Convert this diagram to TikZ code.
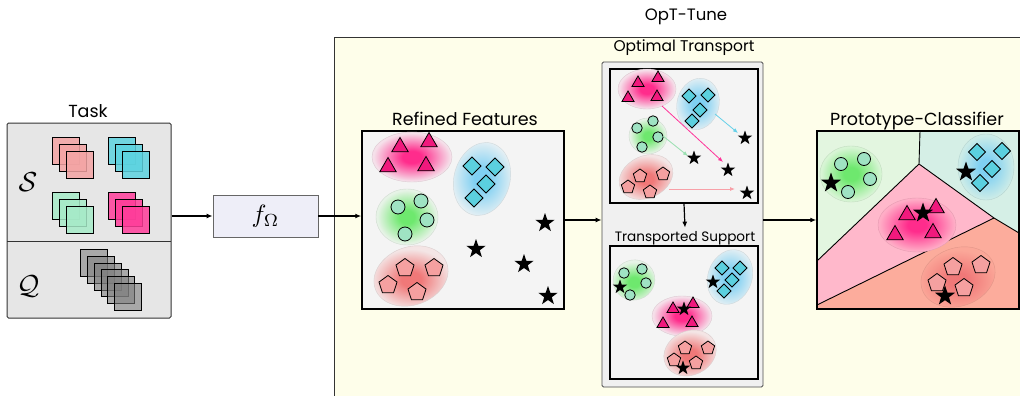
\documentclass[tikz,border=0pt]{standalone}
\usepackage{fontspec}
\setmainfont{Poppins}
\usetikzlibrary{shapes.geometric,arrows.meta}

% palette
\definecolor{optfill}{HTML}{FEFEEA}
\definecolor{frame}{HTML}{333333}
\definecolor{taskfill}{HTML}{E6E6E6}
\definecolor{panelfill}{HTML}{F4F4F4}
\definecolor{otfill}{HTML}{F0F0F0}
\definecolor{ffill}{HTML}{EEEEF8}
\definecolor{magT}{HTML}{F0197D}
\definecolor{cyT}{HTML}{5BD0DF}
\definecolor{grT}{HTML}{9FE3C3}
\definecolor{salT}{HTML}{F5A0A0}
\definecolor{sqS}{HTML}{F4A4A4}
\definecolor{sqC}{HTML}{5DD3E0}
\definecolor{sqG}{HTML}{A6EBC8}
\definecolor{sqM}{HTML}{FF3D9A}
\definecolor{magB}{HTML}{FF2C8C}
\definecolor{cyB}{HTML}{7FD0F2}
\definecolor{grB}{HTML}{6EE86E}
\definecolor{salB}{HTML}{F07878}
\definecolor{pcG}{HTML}{E3F6E0}
\definecolor{pcC}{HTML}{D5EFE6}
\definecolor{pcM}{HTML}{FFB8CB}
\definecolor{pcS}{HTML}{FCAC9C}
\definecolor{arM}{HTML}{FF3399}
\definecolor{arC}{HTML}{66D0E8}
\definecolor{arG}{HTML}{99E0B0}
\definecolor{arS}{HTML}{F8A0A8}

% soft cluster blobs
\colorlet{blobin}{red}\colorlet{blobmid}{pink}\colorlet{blobout}{white}
\pgfdeclareradialshading[blobin,blobmid,blobout]{blobshade}{\pgfpointorigin}{%
  color(0bp)=(blobin); color(6bp)=(blobin); color(24bp)=(blobmid);
  color(42bp)=(blobout); color(50bp)=(blobout)}
\newcommand\blob[6]{% center, x radius, y radius, angle, inner, outer
  \colorlet{blobin}{#5}\colorlet{blobout}{#6}\colorlet{blobmid}{#5!55!#6}%
  \path[shade, shading=blobshade, draw=#6!90!black, line width=0.4pt,
        rotate around={#4:#1}] #1 ellipse [x radius=#2, y radius=#3];}

% stacked image cards
\newcommand\cards[4]{% x, y, colour, count
  \foreach \k in {1,...,#4}{
    \draw[line width=0.8pt, fill=#3, fill opacity=0.85]
      ({#1+7*(\k-1)},{#2+7*(\k-1)}) rectangle ++(27,27);}}

\tikzset{
  shp/.style={draw=black, line width=0.8pt, inner sep=0pt, outer sep=0pt},
  tri/.style={shp, regular polygon, regular polygon sides=3, fill=magT, minimum size=#1},
  dia/.style={shp, diamond, aspect=1, fill=cyT, minimum size=#1},
  circ/.style={shp, circle, fill=grT, minimum size=#1},
  pent/.style={shp, regular polygon, regular polygon sides=5, fill=salT, minimum size=#1},
  pstar/.style={star, star points=5, star point ratio=2.5, fill=black, inner sep=0pt, minimum size=#1},
  conn/.style={line width=1.2pt, -{Latex[length=6pt,width=5pt]}},
  otar/.style={line width=0.8pt, -{Latex[length=5pt,width=4pt]}},
  plotbox/.style={draw=black, line width=1.5pt, fill=panelfill, inner sep=0pt},
  ttl/.style={font=\fontsize{17.5}{20}\selectfont},
}

\begin{document}
\begin{tikzpicture}[x=1pt,y=-1pt]
\useasboundingbox (0,0) rectangle (1020,396);

% ---------- OpT-Tune container ----------
\node[draw=frame, fill=optfill, line width=0.9pt, inner sep=0pt, anchor=north west,
      minimum width=720pt, minimum height=380pt] (opt) at (334,37) {};
\node[font=\fontsize{16.5}{20}\selectfont] (opttitle) at (686,17) {OpT-Tune};

% ---------- Task ----------
\node[draw=frame, fill=taskfill, line width=1pt, rounded corners=1.5pt, inner sep=0pt,
      minimum width=164pt, minimum height=195pt] (task) at (89,220.5) {};
\coordinate (tdl) at (7,241);
\coordinate (tdr) at (171,241);
\draw[frame, line width=1pt] (tdl) -- (tdr);
\node[ttl] (tasktitle) at (88,111) {Task};
\node (slabel) at (28,182) {\scalebox{2.75}{\fontsize{10}{12}\selectfont$\mathcal{S}$}};
\node (qlabel) at (28,286) {\scalebox{2.75}{\fontsize{10}{12}\selectfont$\mathcal{Q}$}};
\cards{52}{137}{sqS}{3}
\cards{108}{137}{sqC}{3}
\cards{52}{192}{sqG}{3}
\cards{108}{192}{sqM}{3}
\foreach \qx/\qy in {80/249,87/256,94/263,101/269,107/276,114/283}
  \draw[line width=0.8pt, fill=black!50, fill opacity=0.6] (\qx,\qy) rectangle ++(27,27);

% ---------- backbone ----------
\node[draw=black!60, fill=ffill, line width=0.8pt, inner sep=0pt,
      minimum width=105pt, minimum height=42pt] (fnet) at (265.5,216)
      {\scalebox{2.5}{\fontsize{10}{12}\selectfont$f_\Omega$}};

% ---------- Refined Features ----------
\node[plotbox, minimum width=202pt, minimum height=178pt] (rf) at (463,220) {};
\node[ttl] (rftitle) at (465,119) {Refined Features};
\blob{(412,157)}{40}{25}{0}{magB}{magB!10!panelfill}
\blob{(482,179)}{28}{37}{-15}{cyB}{cyB!12!panelfill}
\blob{(407,217)}{31}{28}{0}{grB}{grB!10!panelfill}
\blob{(411,276)}{38}{29}{20}{salB}{salB!12!panelfill}
\foreach \p [count=\i] in {(400,147),(429,142),(388,167),(426,166)} \node[tri=19] (rft\i) at \p {};
\foreach \p [count=\i] in {(472,166),(495,167),(486,184),(474,198)} \node[dia=18] (rfd\i) at \p {};
\foreach \p [count=\i] in {(398,207),(421,201),(427,220),(405,234)} \node[circ=14] (rfc\i) at \p {};
\foreach \p [count=\i] in {(388,285),(405,268),(434,268),(417,292)} \node[pent=19] (rfp\i) at \p {};
\foreach \p [count=\i] in {(476,249),(545,223),(524,264),(548,296)} \node[pstar=20] (rfs\i) at \p {};

% ---------- Optimal Transport / Transported Support ----------
\node[draw=black!70, fill=otfill, line width=0.8pt, rounded corners=1.5pt, inner sep=0pt,
      minimum width=161pt, minimum height=325pt] (otpanel) at (682.5,224.5) {};
\node[font=\fontsize{15.5}{18}\selectfont] (ottitle) at (684,48) {Optimal Transport};
\node[plotbox, minimum width=148pt, minimum height=134pt] (otbox) at (684,136) {};
\blob{(647,89)}{29}{20}{0}{magB}{magB!10!panelfill}
\blob{(698,104)}{21}{26}{-15}{cyB}{cyB!12!panelfill}
\blob{(648,136)}{19}{18}{0}{grB}{grB!10!panelfill}
\blob{(646,177)}{28}{21}{25}{salB}{salB!12!panelfill}
\foreach \p [count=\i] in {(638,83),(658,78),(628,98),(657,97)} \node[tri=14] (ott\i) at \p {};
\foreach \p [count=\i] in {(689,96),(708,95),(700,110),(692,121)} \node[dia=14] (otd\i) at \p {};
\foreach \p [count=\i] in {(637,128),(653,121),(658,137),(642,147)} \node[circ=10.5] (otc\i) at \p {};
\foreach \p [count=\i] in {(628,187),(640,176),(663,174),(650,192)} \node[pent=14] (otp\i) at \p {};
\foreach \p [count=\i] in {(745,138),(694,158),(728,170),(747,193)} \node[pstar=15] (ots\i) at \p {};
\coordinate (mfrom) at (662,106);  \coordinate (mto) at (723,162);
\coordinate (cfrom) at (715,114);  \coordinate (cto) at (738,133);
\coordinate (gfrom) at (663,136);  \coordinate (gto) at (688,156);
\coordinate (sfrom) at (669,189);  \coordinate (sto) at (735,189);
\draw[otar, arM] (mfrom) -- (mto);
\draw[otar, arC] (cfrom) -- (cto);
\draw[otar, arG] (gfrom) -- (gto);
\draw[otar, arS] (sfrom) -- (sto);

\node[font=\fontsize{13.6}{16}\selectfont] (tstitle) at (685,238) {Transported Support};
\node[plotbox, minimum width=148pt, minimum height=133pt] (tsbox) at (684,312.5) {};
\blob{(634,280)}{21}{20}{20}{grB}{grB!10!panelfill}
\blob{(730,277)}{22}{28}{-20}{cyB}{cyB!12!panelfill}
\blob{(682,316)}{30}{20}{0}{magB}{magB!10!panelfill}
\blob{(690,353)}{27}{22}{25}{salB}{salB!12!panelfill}
\foreach \p [count=\i] in {(624,273),(642,269),(646,283),(630,295)} \node[circ=10.5] (tsc\i) at \p {};
\foreach \p [count=\i] in {(722,268),(740,268),(732,280),(724,291)} \node[dia=14] (tsd\i) at \p {};
\foreach \p [count=\i] in {(673,309),(693,304),(663,324),(692,323)} \node[tri=14] (tst\i) at \p {};
\foreach \p [count=\i] in {(685,348),(708,348),(674,360),(696,363)} \node[pent=14] (tsp\i) at \p {};
\foreach \p [count=\i] in {(620,287),(713,282),(684,309),(683,368)} \node[pstar=15] (tss\i) at \p {};

% ---------- Prototype-Classifier ----------
\node[plotbox, minimum width=202pt, minimum height=178pt] (pc) at (918,220) {};
\node[ttl] (pctitle) at (917,121) {Prototype-Classifier};
\coordinate (ptop) at (920,131);
\coordinate (pv) at (919,164);
\coordinate (pr) at (994,218);
\coordinate (prr) at (1019,233);
\coordinate (pl) at (817,261);
\coordinate (pll) at (817,305);
\fill[pcG] (817,131) -- (ptop) -- (pv) -- (pl) -- cycle;
\fill[pcC] (ptop) -- (1019,131) -- (prr) -- (pr) -- (pv) -- cycle;
\fill[pcM] (pv) -- (pr) -- (pll) -- (pl) -- cycle;
\fill[pcS] (pr) -- (prr) -- (1019,309) -- (817,309) -- (pll) -- cycle;
\draw[line width=0.9pt] (ptop) -- (pv) -- (pl);
\draw[line width=0.9pt] (pv) -- (pr) -- (prr);
\draw[line width=0.9pt] (pr) -- (pll);
\blob{(851,174)}{31}{28}{0}{grB}{grB!10!pcG}
\blob{(986,167)}{28}{33}{0}{cyB}{cyB!12!pcC}
\blob{(917,225)}{39}{27}{0}{magB}{magB!8!pcM}
\blob{(958,277)}{38}{29}{20}{salB}{salB!10!pcS}
\foreach \p [count=\i] in {(841,164),(864,159),(870,179),(848,192)} \node[circ=13] (pcc\i) at \p {};
\foreach \p [count=\i] in {(977,152),(1002,151),(992,169),(980,183)} \node[dia=17] (pcd\i) at \p {};
\foreach \p [count=\i] in {(907,215),(936,208),(895,235),(933,233)} \node[tri=19] (pct\i) at \p {};
\foreach \p [count=\i] in {(953,267),(981,265),(937,283),(964,288)} \node[pent=19] (pcp\i) at \p {};
\foreach \p [count=\i] in {(831,183),(966,172),(923,213),(945,296)} \node[pstar=21] (pcs\i) at \p {};
\node[draw=black, line width=1.5pt, inner sep=0pt, minimum width=202pt, minimum height=178pt] (pcframe) at (918,220) {};

% ---------- connectors ----------
\draw[conn] (task.east |- fnet.west) -- (fnet.west);
\draw[conn] (fnet.east) -- (rf.west |- fnet.east);
\draw[conn] (rf.east) -- (otpanel.west |- rf.east);
\draw[conn] (otbox.south) -- (tstitle.north);
\draw[conn] (otpanel.east |- pc.west) -- (pc.west);
\end{tikzpicture}
\end{document}
